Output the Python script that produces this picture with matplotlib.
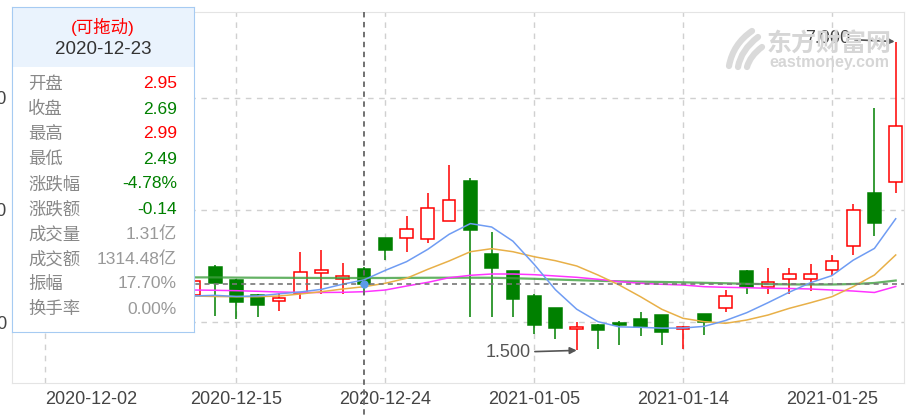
import matplotlib
matplotlib.use('Agg')
import matplotlib.pyplot as plt
import matplotlib.transforms as mtransforms
from matplotlib.patches import Rectangle, PathPatch
from matplotlib.path import Path
import pandas as pd

plt.rcParams['font.family'] = ['Liberation Sans', 'Noto Sans CJK SC']

# trading calendar shown on the axis (2021-01-01 is a holiday)
days = [d.strftime('%Y-%m-%d') for d in pd.bdate_range('2020-12-02', '2021-01-28')
        if d.strftime('%Y-%m-%d') != '2021-01-01']

# candles, from 2020-12-11 on
candle_dates = days[7:]
opens = [2.48, 2.99, 2.75, 2.49, 2.385, 2.53, 2.87, 2.78, 2.95, 3.50, 3.50, 3.48,
         3.81, 4.52, 3.21, 2.91, 2.46, 2.25, 1.88, 1.95, 1.99, 2.05, 2.13, 1.88,
         2.14, 2.25, 2.91, 2.63, 2.78, 2.78, 2.93, 3.35, 4.30, 4.50]
closes = [2.74, 2.70, 2.37, 2.31, 2.43, 2.90, 2.93, 2.83, 2.69, 3.28, 3.67, 4.03,
          4.17, 3.64, 2.97, 2.42, 1.96, 1.90, 1.91, 1.86, 1.95, 1.92, 1.83, 1.92,
          2.01, 2.47, 2.62, 2.72, 2.86, 2.86, 3.10, 4.00, 3.77, 5.50]
highs = [2.76, 3.02, 2.78, 2.50, 2.52, 3.26, 3.29, 3.05, 2.99, 3.50, 3.89, 4.30,
         4.80, 4.57, 3.61, 2.92, 2.50, 2.25, 2.01, 1.97, 2.03, 2.19, 2.13, 1.93,
         2.15, 2.58, 2.94, 2.96, 2.96, 3.03, 3.20, 4.11, 5.82, 7.00]
lows = [2.46, 2.12, 2.05, 2.09, 2.20, 2.42, 2.50, 2.50, 2.49, 3.11, 3.26, 3.41,
        3.81, 2.10, 2.10, 2.10, 1.80, 1.70, 1.50, 1.52, 1.60, 1.76, 1.60, 1.52,
        1.77, 2.18, 2.50, 2.50, 2.50, 2.55, 2.84, 3.19, 3.53, 4.30]

ma5 = [2.47, 2.48, 2.46, 2.47, 2.507, 2.540, 2.587, 2.679, 2.756, 2.925, 3.08, 3.30,
       3.567, 3.758, 3.697, 3.445, 3.032, 2.58, 2.233, 2.011, 1.919, 1.910, 1.896,
       1.898, 1.928, 2.032, 2.172, 2.35, 2.537, 2.706, 2.831, 3.106, 3.316, 3.844]
ma10 = [2.468, 2.459, 2.456, 2.456, 2.468, 2.504, 2.545, 2.593, 2.634, 2.695, 2.784,
        2.944, 3.092, 3.257, 3.311, 3.257, 3.168, 3.097, 3.003, 2.842, 2.664, 2.456,
        2.232, 2.071, 2.011, 1.982, 2.041, 2.13, 2.249, 2.349, 2.456, 2.634, 2.842, 3.199]
ma20 = [2.575, 2.570, 2.563, 2.552, 2.540, 2.531, 2.531, 2.534, 2.545, 2.575, 2.646,
        2.712, 2.794, 2.837, 2.860, 2.860, 2.848, 2.825, 2.801, 2.766, 2.723, 2.695,
        2.677, 2.664, 2.634, 2.623, 2.616, 2.606, 2.602, 2.593, 2.575, 2.557, 2.531, 2.638]
ma30 = [2.80, 2.80, 2.796, 2.794, 2.793, 2.791, 2.789, 2.789, 2.789, 2.789, 2.791,
        2.793, 2.794, 2.794, 2.793, 2.785, 2.775, 2.762, 2.75, 2.739, 2.73, 2.723,
        2.718, 2.712, 2.703, 2.695, 2.686, 2.679, 2.675, 2.673, 2.673, 2.682, 2.70, 2.744]

tick_dates = ['2020-12-02', '2020-12-15', '2020-12-24', '2021-01-05', '2021-01-14', '2021-01-25']
y_ticks = [2, 4, 6]
y_labels = ['2.000', '4.000', '6.000']

sel_date = '2020-12-23'
tip_labels = ['开盘', '收盘', '最高', '最低', '涨跌幅', '涨跌额', '成交量', '成交额', '振幅', '换手率']
tip_values = ['2.95', '2.69', '2.99', '2.49', '-4.78%', '-0.14', '1.31亿', '1314.48亿', '17.70%', '0.00%']
tip_colors = ['#ff0000', '#008000', '#ff0000', '#008000', '#008000', '#008000',
              '#999999', '#999999', '#999999', '#999999']

RED = '#ff0000'
GREEN = '#008000'

W, H = 907, 418
fig = plt.figure(figsize=(W / 100, H / 100), dpi=100)
ax = fig.add_axes([12 / W, (H - 383) / H, 892 / W, 371 / H])
ax.set_xlim(-1.553, 40.39)
ax.set_ylim(0.919, 7.526)

xs = [days.index(d) for d in candle_dates]
bw = 0.6
for x, o, c, h, l in zip(xs, opens, closes, highs, lows):
    up = c >= o
    col = RED if up else GREEN
    ax.plot([x, x], [l, h], color=col, lw=1.1, zorder=2, solid_capstyle='butt')
    ax.add_patch(Rectangle((x - bw / 2, min(o, c)), bw, max(abs(c - o), 0.02),
                           facecolor='white' if up else col, edgecolor=col,
                           lw=1.1, zorder=3))

ax.plot(xs, ma30, color='#3f9f3f', lw=1.6, alpha=0.8, zorder=4)
ax.plot(xs, ma20, color='#ff33ff', lw=1.1, zorder=4)
ax.plot(xs, ma10, color='#e8b048', lw=1.1, zorder=4)
ax.plot(xs, ma5, color='#6f9cf3', lw=1.1, zorder=4)

# grid
tick_x = [days.index(d) for d in tick_dates]
dash = (0, (4, 4))
for tx in tick_x:
    ax.axvline(tx, color='#d0d0d0', lw=1, ls=dash, zorder=1)
for ty in y_ticks:
    ax.axhline(ty, color='#d0d0d0', lw=1, ls=dash, zorder=1)

ax.set_xticks(tick_x)
ax.set_xticklabels(tick_dates, fontsize=13, color='#444444')
ax.get_xticklabels()[0].set_ha('left')
ax.set_yticks(y_ticks)
ax.set_yticklabels(y_labels, fontsize=13, color='#444444')
ax.tick_params(length=0)
ax.tick_params(axis='x', pad=6)
ax.tick_params(axis='y', pad=3.6)
for s in ax.spines.values():
    s.set_color('#e4e4e4')

# crosshair on selected day
sx = days.index(sel_date)
sc = closes[candle_dates.index(sel_date)]
ax.plot([sx, sx], [1, -0.1], transform=ax.get_xaxis_transform(), clip_on=False,
        color='#666666', lw=1.3, ls=(0, (3, 2.5)), zorder=6)
ax.axhline(sc, color='#777777', lw=1.2, ls=(0, (3, 2.5)), zorder=6)
ax.plot([sx], [sc], 'o', color='#5b9bea', ms=5, zorder=7)

# watermark
pix = mtransforms.IdentityTransform()
for (p0, p1, p2) in [((729, 66), (733, 44), (752, 31)),
                     ((738, 67), (741, 50), (758, 37)),
                     ((747, 67), (750, 56), (762, 47))]:
    pth = Path([(p0[0], H - p0[1]), (p1[0], H - p1[1]), (p2[0], H - p2[1])],
               [Path.MOVETO, Path.CURVE3, Path.CURVE3])
    ax.add_artist(PathPatch(pth, fill=False, edgecolor='#dadada', lw=4.5,
                            transform=pix, capstyle='round', zorder=1))
fig.text(829 / W, 1 - 44 / H, '东方财富网', fontsize=18, fontweight='bold',
         color='#d6d6d6', ha='center', va='center', family=['Noto Sans CJK SC'])
fig.text(829 / W, 1 - 63 / H, 'eastmoney.com', fontsize=11.5, fontweight='bold',
         color='#d6d6d6', ha='center', va='center')

# max / min annotations
imax = highs.index(max(highs))
imin = lows.index(min(lows))
arrow = dict(arrowstyle='-|>', color='#555555', lw=1.2, mutation_scale=10,
             shrinkA=1, shrinkB=0)
ax.annotate(f'{max(highs):.3f}', xy=(xs[imax] - 0.05, max(highs)), xytext=(-44, 3),
            textcoords='offset pixels', ha='right', va='center', fontsize=13,
            color='#444444', arrowprops=arrow, zorder=8)
ax.annotate(f'{min(lows):.3f}', xy=(xs[imin], min(lows)), xytext=(-46, -2),
            textcoords='offset pixels', ha='right', va='center', fontsize=13,
            color='#555555', arrowprops=arrow, zorder=8)

# tooltip box
box = fig.add_axes([12 / W, (H - 332) / H, 182 / W, 325 / H])
box.set_xlim(0, 182)
box.set_ylim(325, 0)
box.set_xticks([])
box.set_yticks([])
box.set_facecolor('white')
for s in box.spines.values():
    s.set_color('#a6cbf2')
box.add_patch(Rectangle((0, 0), 182, 60, facecolor='#eaf3fd', edgecolor='none'))
box.text(91, 20.5, '(可拖动)', fontsize=12.5, color='#ff0000', ha='center', va='center')
box.text(91, 43, sel_date, fontsize=13.5, color='#333333', ha='center', va='center')
for k, (lab, val, col) in enumerate(zip(tip_labels, tip_values, tip_colors)):
    y = 77 + 25 * k
    box.text(16, y, lab, fontsize=12.5, color='#888888', ha='left', va='center')
    box.text(165, y, val, fontsize=12.5, color=col, ha='right', va='center')

fig.savefig('out.png', dpi=100)
